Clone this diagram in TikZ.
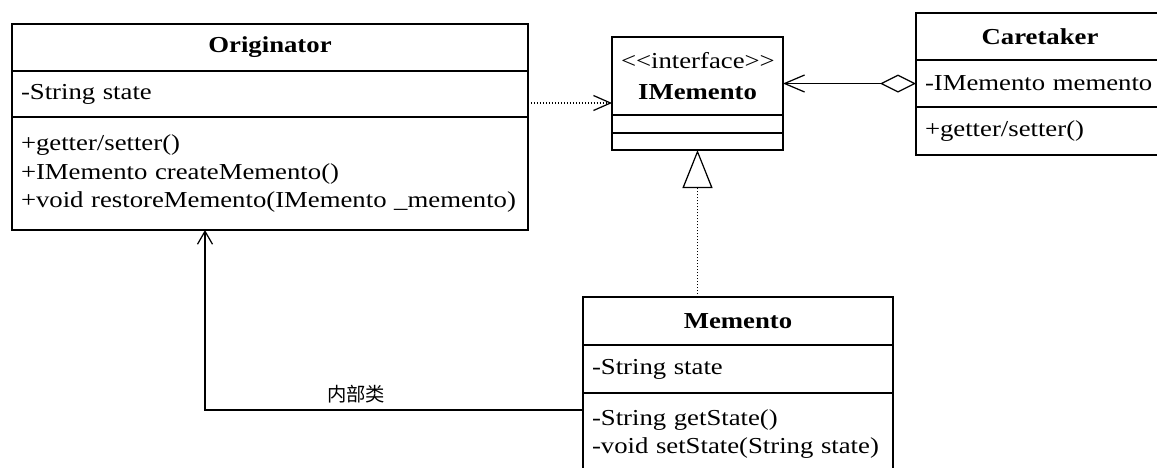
\documentclass[tikz,border=0pt]{standalone}
\usepackage{fontspec}
\setmainfont{Liberation Serif}[FakeStretch=1.17]
\newfontfamily\cjkfont{Noto Sans CJK SC}
\usepackage{tikz}
\usetikzlibrary{positioning,arrows.meta}

\begin{document}
\begin{tikzpicture}[
  every node/.style={font=\fontsize{13}{16.2}\selectfont},
  classhead/.style={draw,line width=0.7pt,outer sep=0pt,inner xsep=0.18cm,inner ysep=0pt,align=center,font=\fontsize{13}{16.2}\selectfont\bfseries},
  classbody/.style={draw,line width=0.7pt,outer sep=0pt,inner xsep=0.18cm,inner ysep=0pt,align=left},
  conn/.style={line width=0.7pt}
]
% --- page frame (boxes on the right and bottom run off the edge) ---
\useasboundingbox (0,0) rectangle (23.14,-9.34);
\clip (0,0) rectangle (23.14,-9.34);

% --- Originator ---
\node[classhead,text width=9.96cm,minimum height=0.94cm,anchor=north west] (orig) at (0.24,-0.48) {Originator};
\node[classbody,text width=9.96cm,minimum height=0.92cm,below=0pt of orig] (origattr) {-String state};
\node[classbody,text width=9.96cm,minimum height=2.26cm,below=0pt of origattr] (origops)
  {+getter/setter()\\+IMemento createMemento()\\+void restoreMemento(IMemento \_memento)};

% --- IMemento ---
\node[classhead,font=\fontsize{13}{17.6}\selectfont,text width=3.06cm,minimum height=1.56cm,anchor=north west] (imem) at (12.24,-0.74)
  {\textless\kern0pt\textless\kern0pt interface\kern0pt\textgreater\kern0pt\textgreater\\\textbf{IMemento}};
\node[classbody,text width=3.06cm,minimum height=0.36cm,below=0pt of imem] (imemattr) {};
\node[classbody,text width=3.06cm,minimum height=0.34cm,below=0pt of imemattr] (imemops) {};

% --- Caretaker ---
\node[classhead,text width=4.6cm,minimum height=0.94cm,anchor=north west] (caret) at (18.32,-0.26) {Caretaker};
\node[classbody,text width=4.6cm,minimum height=0.94cm,below=0pt of caret] (caretattr) {-IMemento memento};
\node[classbody,text width=4.6cm,minimum height=0.96cm,below=0pt of caretattr] (caretops) {+getter/setter()};

% --- Memento ---
\node[classhead,text width=5.84cm,minimum height=0.96cm,anchor=north west] (mem) at (11.66,-5.94) {Memento};
\node[classbody,text width=5.84cm,minimum height=0.96cm,below=0pt of mem] (memattr) {-String state};
\node[classbody,text width=5.84cm,minimum height=1.64cm,below=0pt of memattr] (memops)
  {-String getState()\\-void setState(String state)};

% --- connectors ---
\draw[conn,densely dotted,-{Straight Barb[length=3.4mm,width=3mm]}]
  ([yshift=-0.18cm]origattr.east) -- ([yshift=-0.18cm]origattr.east -| imem.west);
\draw[conn,{Diamond[open,length=7.2mm,width=3.6mm]}-{Straight Barb[length=4mm,width=3.4mm]}]
  (caretattr.west) -- (caretattr.west -| imem.east);
\draw[conn,densely dotted,-{Triangle[open,length=7.6mm,width=6mm]}]
  (mem.north -| imemops.south) -- (imemops.south);
\draw[conn,-{Straight Barb[length=2.6mm,width=3mm]}]
  ([yshift=0.48cm]memops.west) -| node[pos=0.3,above,font=\cjkfont\fontsize{11}{13}\selectfont] (innerlbl) {内部类}
  ([xshift=-1.3cm]origops.south);
\end{tikzpicture}
\end{document}
